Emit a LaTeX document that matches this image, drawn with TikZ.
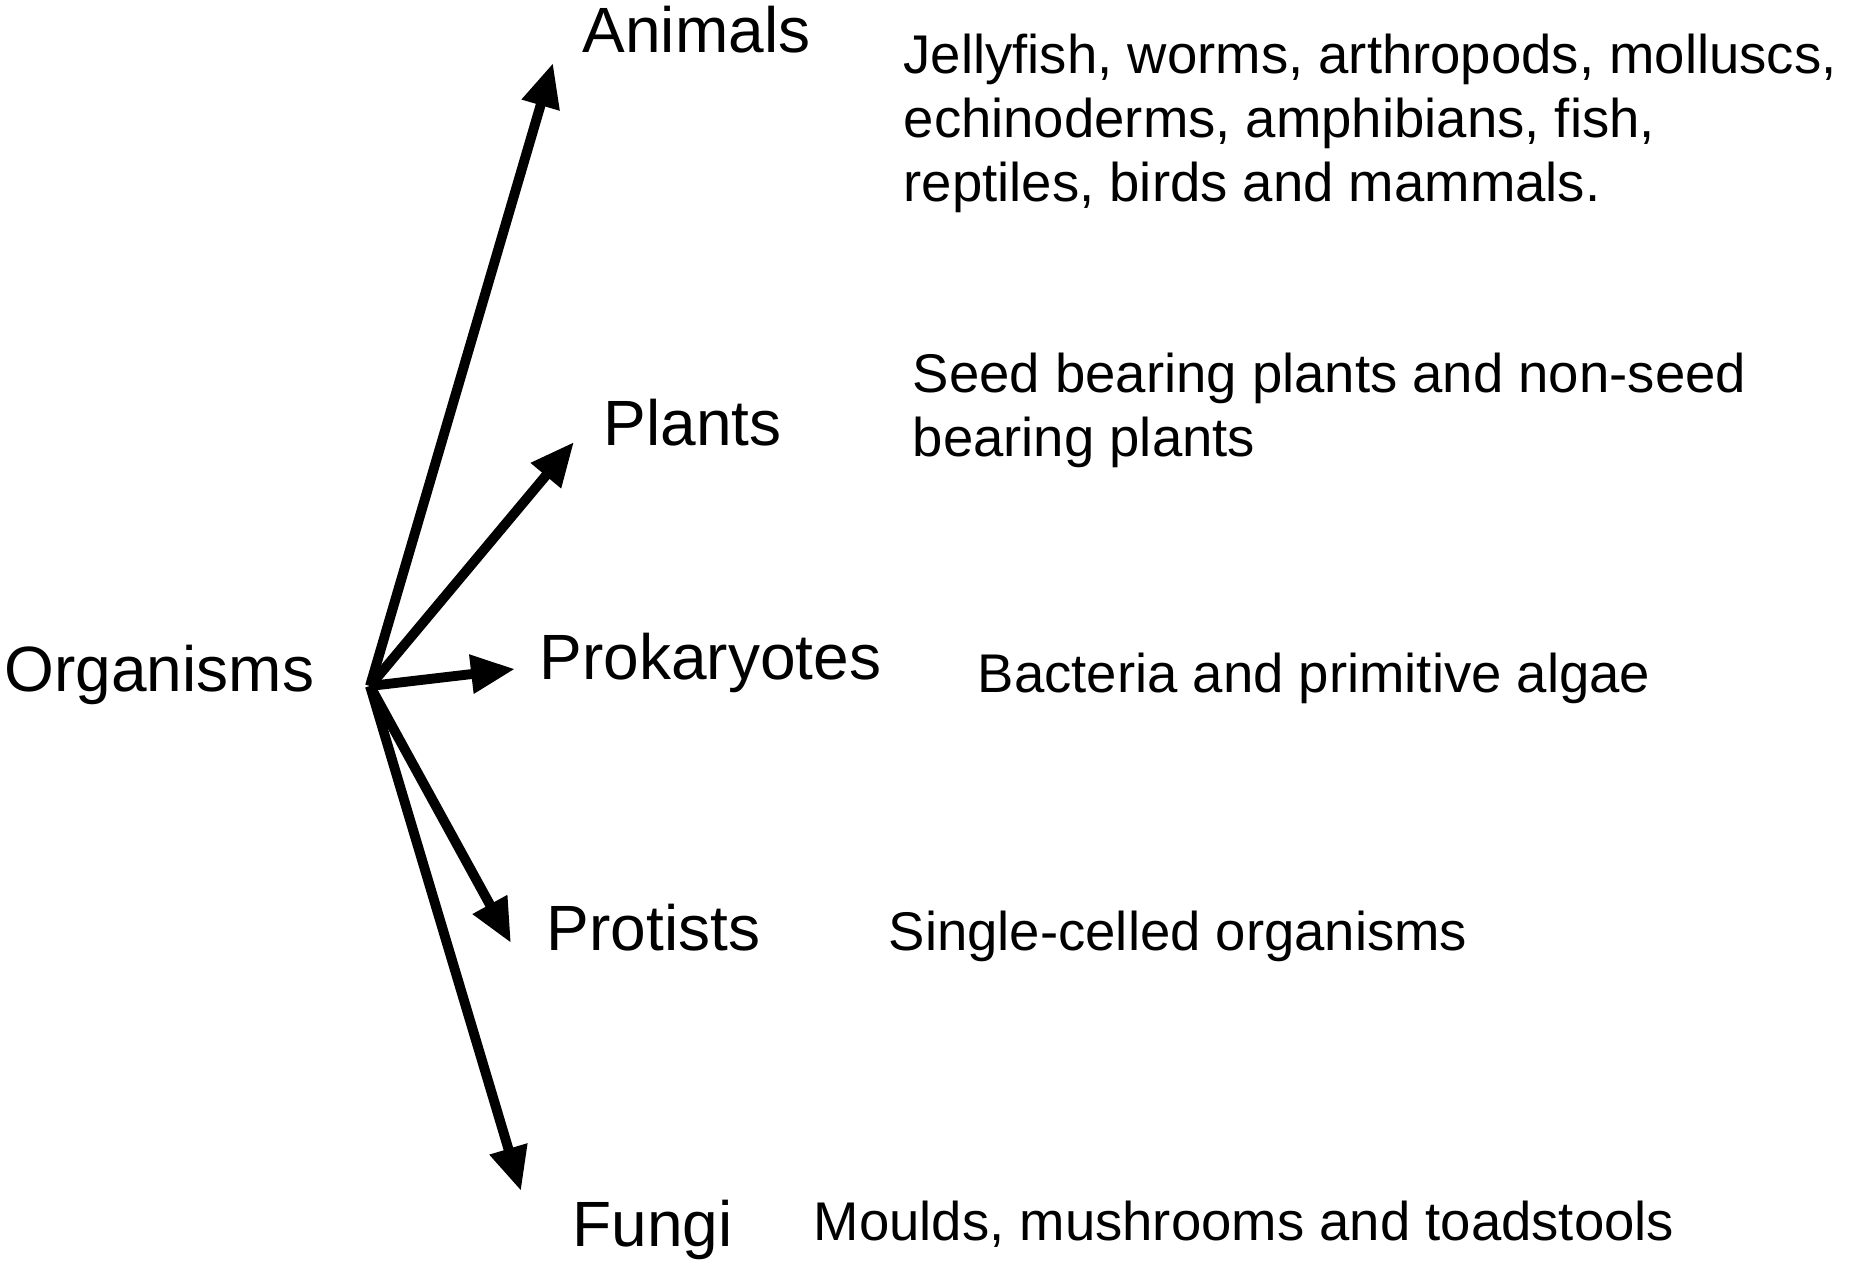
\documentclass[tikz,border=0pt]{standalone}
\usepackage{fontspec}
\setmainfont{Liberation Sans}
\usepackage{tikz}
\usetikzlibrary{positioning,arrows.meta}

\begin{document}
\begin{tikzpicture}[
    x=0.01cm, y=-0.01cm,
    kingdom/.style={anchor=base west, inner sep=0pt, font=\fontsize{18.2}{18.2}\selectfont},
    members/.style={anchor=base west, inner sep=0pt, align=left, font=\fontsize{15.5}{18.2}\selectfont},
    branch/.style={-{Triangle[length=12.5pt, width=10.5pt]}, line width=2.8pt, black}
  ]
    \useasboundingbox (0,0) rectangle (1864,1268);

    % root
    \node[kingdom] (org) at (4,692) {Organisms};
    \coordinate (hub) at (370,686);

    % kingdoms
    \node[kingdom] (animals) at (582,53) {Animals};
    \node[kingdom] (plants) at (603,446) {Plants};
    \node[kingdom] (prokaryotes) at (539,680) {Prokaryotes};
    \node[kingdom] (protists) at (546,951) {Protists};
    \node[kingdom] (fungi) at (572,1246) {Fungi};

    % arrow ends
    \coordinate (animals-tip) at (553,63);
    \coordinate (plants-tip) at (574,442);
    \coordinate (prokaryotes-tip) at (515,669);
    \coordinate (protists-tip) at (511,943);
    \coordinate (fungi-tip) at (521,1191);

    \foreach \k in {animals,plants,prokaryotes,protists,fungi}
      \draw[branch] (hub) -- (\k-tip);

    % examples (base = last line)
    \node[members] (animals-txt) at (903,202) {Jellyfish, worms, arthropods, molluscs,\\echinoderms, amphibians, fish,\\reptiles, birds and mammals.};
    \node[members] (plants-txt) at (912,457) {Seed bearing plants and non-seed\\bearing plants};
    \node[members] (prokaryotes-txt) at (977,693) {Bacteria and primitive algae};
    \node[members] (protists-txt) at (888,951) {Single-celled organisms};
    \node[members] (fungi-txt) at (813,1240) {Moulds, mushrooms and toadstools};
  \end{tikzpicture}
\end{document}
